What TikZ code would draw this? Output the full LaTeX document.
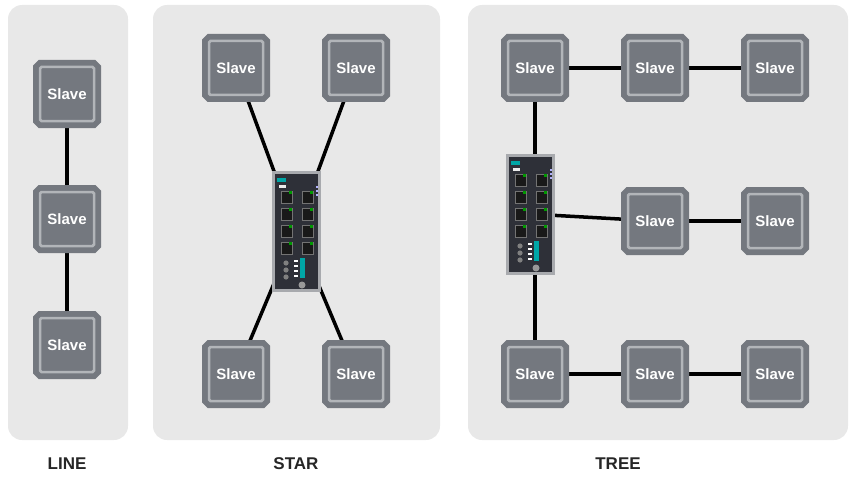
\documentclass[tikz,border=0pt]{standalone}
\usepackage{fontspec}
\setmainfont{Liberation Sans}
\usetikzlibrary{backgrounds}
\pgfdeclarelayer{back}
\pgfsetlayers{back,background,main}
\definecolor{panel}{HTML}{E8E8E8}
\definecolor{sg}{HTML}{74787F}
\definecolor{sl}{HTML}{B2B5B9}
\definecolor{swd}{HTML}{2E3038}
\definecolor{rail}{HTML}{A8AAAE}
\tikzset{
 panel/.style={fill=panel,rounded corners=14pt,draw=none},
 slave/.style={rectangle,minimum size=54pt,inner sep=0pt,fill=sg,draw=sl,line width=2.5pt,
   rounded corners=1.5pt,preaction={draw=sg,line width=14pt,rounded corners=4pt},
   text=white,font=\bfseries\fontsize{15}{15}\selectfont},
 link/.style={line width=3.5pt,black},
 sw/.style={rectangle,minimum width=46pt,minimum height=118pt,fill=swd,draw=rail,line width=3pt,inner sep=0pt},
 lbl/.style={font=\bfseries\fontsize{17}{17}\selectfont,text=black!85},
 port/.style={fill=black!90,draw=black!55,line width=0.4pt}
}
\newcommand{\swdetail}[1]{%
 \begin{scope}[shift={(#1)}]
  \fill[teal!70!cyan] (-19,-53) rectangle (-10,-49);
  \fill[white!85!gray] (-17,-46) rectangle (-10,-43);
  \foreach \r in {0,1,2,3}{
   \foreach \c in {-15,6}{
    \draw[port] (\c,-40+\r*17) rectangle (\c+11,-28+\r*17);
    \fill[green!60!black] (\c+8,-40+\r*17) rectangle (\c+11,-37+\r*17);
   }}
  \foreach \r in {0,1,2}{\fill[gray] (-10,32+\r*7) circle (2.6pt);}
  \fill[teal!70!cyan] (4,27) rectangle (9,47);
  \foreach \r in {0,1,2,3}{\fill[white] (-2,29+\r*5) rectangle (2,31+\r*5);}
  \fill[gray!80] (6,54) circle (3.5pt);
  \foreach \r in {0,1,2}{\fill[white!70!blue] (20,-45+\r*4) rectangle (22,-43+\r*4);}
 \end{scope}}
\begin{document}
\begin{tikzpicture}[x=1pt,y=-1pt]
\useasboundingbox (0,0) rectangle (850,476);
\begin{pgfonlayer}{back}
\fill[panel] (8,5) rectangle (128,440);
\fill[panel] (153,5) rectangle (440,440);
\fill[panel] (468,5) rectangle (848,440);
\end{pgfonlayer}
\node[lbl] at (67,464) {LINE};
\node[lbl] at (296,464) {STAR};
\node[lbl] at (618,464) {TREE};
% LINE
\node[slave] (l1) at (67,94) {Slave};
\node[slave] (l2) at (67,219) {Slave};
\node[slave] (l3) at (67,345) {Slave};
% STAR
\node[slave] (s1) at (236,68) {Slave};
\node[slave] (s2) at (356,68) {Slave};
\node[slave] (s3) at (236,374) {Slave};
\node[slave] (s4) at (356,374) {Slave};
\node[sw] (sw1) at (296,231) {};
\swdetail{296,231}
% TREE
\node[slave] (t11) at (535,68) {Slave};
\node[slave] (t12) at (655,68) {Slave};
\node[slave] (t13) at (775,68) {Slave};
\node[slave] (t22) at (655,221) {Slave};
\node[slave] (t23) at (775,221) {Slave};
\node[slave] (t31) at (535,374) {Slave};
\node[slave] (t32) at (655,374) {Slave};
\node[slave] (t33) at (775,374) {Slave};
\node[sw] (sw2) at (530,214) {};
\swdetail{530,214}
\begin{pgfonlayer}{background}
\draw[link] (l1) -- (l2) (l2) -- (l3);
\draw[link] (s1.center) -- (sw1.center) (s2.center) -- (sw1.center) (s3.center) -- (sw1.center) (s4.center) -- (sw1.center);
\draw[link] (t11) -- (t31);
\draw[link] (t11) -- (t12) (t12) -- (t13) (t22) -- (t23) (t31) -- (t32) (t32) -- (t33);
\draw[link] (sw2.center) -- (t22);
\end{pgfonlayer}
\end{tikzpicture}
\end{document}
